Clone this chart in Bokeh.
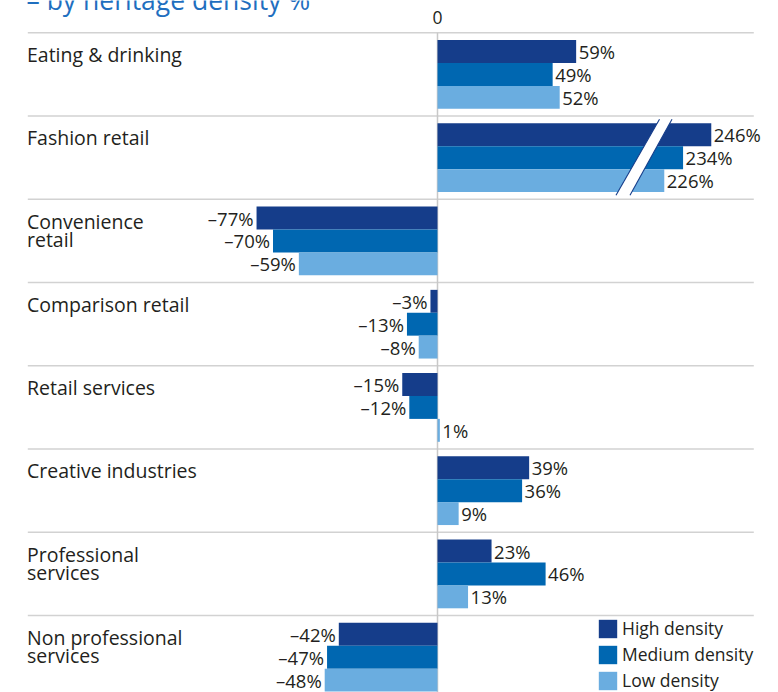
from bokeh.plotting import figure
from bokeh.models import Range1d, ColumnDataSource, Legend, LegendItem
from bokeh.core.properties import value
from bokeh.embed import file_html
from bokeh.resources import INLINE

# ---------------- data ----------------
title_text = "– by heritage density %"
zero_label = "0"
categories = ["Eating & drinking", "Fashion retail", "Convenience\nretail", "Comparison retail",
              "Retail services", "Creative industries", "Professional\nservices",
              "Non professional\nservices"]
series_names = ["High density", "Medium density", "Low density"]
high_density = [59, 246, -77, -3, -15, 39, 23, -42]
medium_density = [49, 234, -70, -13, -12, 36, 46, -47]
low_density = [52, 226, -59, -8, 1, 9, 13, -48]
series_colors = ["#153d8a", "#0067b1", "#6aade0"]

# ---------------- style / layout ----------------
FONT = "Open Sans"
TEXT = "#231f20"
GRID = "#d2d2d2"
PX = 2.35            # pixels per percentage point
ZERO_PX = 437        # page x of the zero line
W, H = 778, 692
SEP0, PITCH = 32.3, 83.25
BAR_OFF, BAR_H = 7.3, 22.9
CUT_ABOVE = 150      # values above this are drawn on a broken bar
CUT = 129.5          # amount removed by the break


def px_to_x(px):
    return (px - ZERO_PX) / PX


p = figure(width=W, height=H, output_backend="svg", toolbar_location=None,
           x_range=Range1d(px_to_x(0), px_to_x(W)),
           y_range=Range1d(H, 0),
           x_axis_location=None, y_axis_location=None,
           min_border=0, title=None)
p.grid.visible = False
p.outline_line_color = None
p.background_fill_color = "white"

n = len(categories)
seps = [SEP0 + i * PITCH for i in range(n)]

# separators and zero line
p.segment(x0=[px_to_x(27.3)] * n, x1=[px_to_x(753.3)] * n, y0=seps, y1=seps,
          line_color=GRID, line_width=1.6)
p.segment(x0=[0], x1=[0], y0=[SEP0], y1=[H], line_color="#c8c8c8", line_width=1.5)

# bars
legend_items = []
label_sources = []
all_series = [high_density, medium_density, low_density]
for j, (name, vals, col) in enumerate(zip(series_names, all_series, series_colors)):
    ys = [s + BAR_OFF + BAR_H * j + BAR_H / 2 for s in seps]
    disp = [v - CUT if v > CUT_ABOVE else v for v in vals]
    src = ColumnDataSource(dict(y=ys, right=disp, left=[0] * n))
    r = p.hbar(y="y", left="left", right="right", height=BAR_H, source=src,
               fill_color=col, line_color=None)
    legend_items.append(LegendItem(label=name, renderers=[r]))

    labels = [("–" if v < 0 else "") + f"{abs(v)}%" for v in vals]
    pos = dict(x=[d for d, v in zip(disp, vals) if v >= 0],
               y=[y for y, v in zip(ys, vals) if v >= 0],
               t=[l for l, v in zip(labels, vals) if v >= 0])
    neg = dict(x=[d for d, v in zip(disp, vals) if v < 0],
               y=[y for y, v in zip(ys, vals) if v < 0],
               t=[l for l, v in zip(labels, vals) if v < 0])
    label_sources.append((pos, neg))

for pos, neg in label_sources:
    p.text(x="x", y="y", text="t", source=ColumnDataSource(pos), x_offset=2.5,
           text_align="left", text_baseline="middle", text_font=value(FONT),
           text_font_size="18.5px", text_color=TEXT)
    p.text(x="x", y="y", text="t", source=ColumnDataSource(neg), x_offset=-3,
           text_align="right", text_baseline="middle", text_font=value(FONT),
           text_font_size="18.5px", text_color=TEXT)

# axis break on the broken (fashion) bars
bi = [i for i, v in enumerate(high_density) if v > CUT_ABOVE][0]
yt, yb = seps[bi] + 3.3, seps[bi] + BAR_OFF + 3 * BAR_H + 3.3
lx_t, lx_b = px_to_x(659), px_to_x(615.5)
rx_t, rx_b = px_to_x(671.5), px_to_x(629.5)
p.patch(x=[lx_t, rx_t, rx_b, lx_b], y=[yt, yt, yb, yb], fill_color="white", line_color=None)
p.segment(x0=[lx_t, rx_t], y0=[yt, yt], x1=[lx_b, rx_b], y1=[yb, yb],
          line_color=series_colors[0], line_width=1.1)

# category labels
lx, ly, lt = [], [], []
for s, cat in zip(seps, categories):
    for k, line in enumerate(cat.split("\n")):
        lx.append(px_to_x(26.5))
        ly.append(s + 21.8 + 18.5 * k)
        lt.append(line)
p.text(x=lx, y=ly, text=lt, text_align="left", text_baseline="middle",
       text_font=value(FONT), text_font_size="19.5px", text_color=TEXT)

# title (cut at the top edge, as in the original) and zero label
p.text(x=[px_to_x(26)], y=[-1.0], text=[title_text], text_align="left",
       text_baseline="alphabetic", text_font=value(FONT), text_font_size="26.5px",
       text_color="#1f6fbf")
p.text(x=[0], y=[16.5], text=[zero_label], text_align="center",
       text_baseline="middle", text_font=value(FONT), text_font_size="17.5px",
       text_color=TEXT)

legend = Legend(items=legend_items, location=(596, 0), orientation="vertical",
                glyph_width=23, glyph_height=23, label_height=23, spacing=2,
                label_standoff=3, padding=0, margin=0,
                label_text_font=FONT, label_text_font_size="17.5px",
                label_text_color=TEXT, border_line_alpha=0, background_fill_alpha=0)
p.add_layout(legend)

open("out.html", "w").write(file_html(p, INLINE))
